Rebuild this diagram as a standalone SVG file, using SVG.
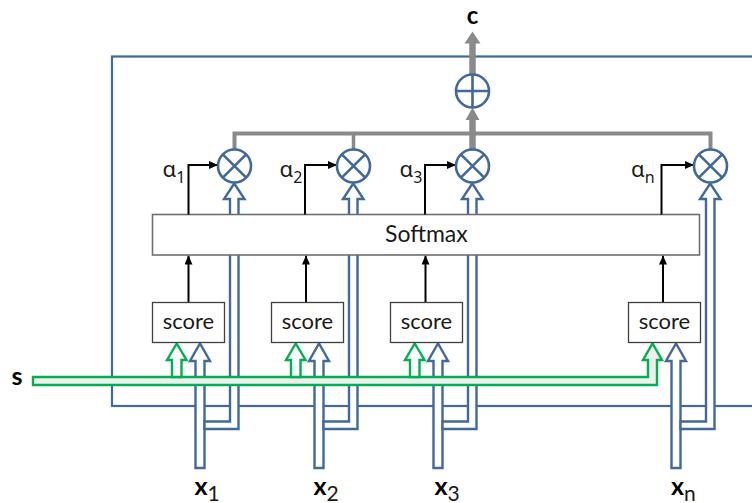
<svg xmlns="http://www.w3.org/2000/svg" width="752" height="503" viewBox="0 0 752 503">
<style>
.frame{fill:none;stroke:#41699c;stroke-width:2.2}
.hol{fill:#fff;stroke:#41699c;stroke-width:2.4;stroke-linejoin:miter}
.grn{fill:#fff;stroke:#00b050;stroke-width:2.4}
.grnbar{fill:#eeeeee;stroke:#00b050;stroke-width:2.4}
.op{fill:#fff;stroke:#41699c;stroke-width:2.6}
.opl{stroke:#41699c;stroke-width:2.6;fill:none}
.box{fill:#fff;stroke:#404040;stroke-width:1.3}
.sm{fill:#fff;stroke:#6f6f6f;stroke-width:1.6}
.gray{stroke:#8a8a8a;fill:none}
.gfill{fill:#8a8a8a}
.blk{stroke:#000;stroke-width:2;fill:none;marker-end:url(#ah)}
.t{font-family:Lato,"Liberation Sans",sans-serif;fill:#1a1a1a}
.a{font-family:"Noto Sans","Liberation Sans",sans-serif;fill:#1a1a1a}
.b{font-family:Lato,"Liberation Sans",sans-serif;font-weight:bold;fill:#000}
</style>
<defs>
<marker id="ah" markerUnits="userSpaceOnUse" markerWidth="9" markerHeight="8" viewBox="0 0 9 8" refX="9" refY="4" orient="auto">
<path d="M0,0 L9,4 L0,8 z" fill="#000"/>
</marker>
</defs>

<g id="frame">
<rect class="frame" x="112" y="56.5" width="700" height="349.5"/>
</g>

<g id="connectors">
<polygon class="hol" points="195.5,468 195.5,361 190,361 200,343.5 210,361 204.5,361 204.5,468"/>
<polygon class="hol" points="204.5,421.5 230,421.5 230,199 224,199 234.25,183.5 244.5,199 238.5,199 238.5,429 204.5,429"/>
<polygon class="hol" points="314.5,468 314.5,361 309,361 319,343.5 329,361 323.5,361 323.5,468"/>
<polygon class="hol" points="323.5,421.5 349,421.5 349,199 343,199 353.25,183.5 363.5,199 357.5,199 357.5,429 323.5,429"/>
<polygon class="hol" points="433.5,468 433.5,361 428,361 438,343.5 448,361 442.5,361 442.5,468"/>
<polygon class="hol" points="442.5,421.5 468,421.5 468,199 462,199 472.25,183.5 482.5,199 476.5,199 476.5,429 442.5,429"/>
<polygon class="hol" points="671.5,468 671.5,361 666,361 676,343.5 686,361 680.5,361 680.5,468"/>
<polygon class="hol" points="680.5,421.5 706,421.5 706,199 700,199 710.25,183.5 720.5,199 714.5,199 714.5,429 680.5,429"/>

<polygon class="grnbar" points="33,377 648,377 648,360 643,360 652.5,343.5 662,360 657,360 657,385 33,385"/>
<polygon class="grn" points="172,377 172,360 167,360 176.75,343.5 186.5,360 181.5,360 181.5,377"/>
<polygon class="grn" points="291,377 291,360 286,360 295.75,343.5 305.5,360 300.5,360 300.5,377"/>
<polygon class="grn" points="410,377 410,360 405,360 414.75,343.5 424.5,360 419.5,360 419.5,377"/>

<path class="gray" stroke-width="4" d="M234.5,149 V133.5 H710.5 V149"/>
<path class="gray" stroke-width="3.5" d="M353.5,133.5 V149"/>
<path class="gray" stroke-width="6.5" d="M472.5,150 V119"/>
<polygon class="gfill" points="465.5,120 472.5,107.5 479.5,120"/>
<path class="gray" stroke-width="6.5" d="M472.5,75 V42"/>
<polygon class="gfill" points="464.5,43.5 472.5,31.5 480.5,43.5"/>

<path class="blk" d="M188.5,302.5 V255.5"/>
<path class="blk" d="M306,302.5 V255.5"/>
<path class="blk" d="M425.5,302.5 V255.5"/>
<path class="blk" d="M663,302.5 V255.5"/>
</g>

<g id="softmax">
<rect class="sm" x="152.5" y="214.5" width="547" height="40.5"/>
<text class="t" x="426.4" y="241.5" font-size="23" text-anchor="middle">Softmax</text>
</g>

<g id="alpha-arrows">
<path class="blk" d="M188.5,214.5 V165 H218"/>
<path class="blk" d="M305,214.5 V165 H337"/>
<path class="blk" d="M425,214.5 V165 H456"/>
<path class="blk" d="M661.5,214.5 V165 H694"/>
</g>

<g id="score1"><rect class="box" x="152.5" y="302.5" width="72" height="40"/><text class="t" x="188.5" y="328.5" font-size="22" text-anchor="middle">score</text></g>
<g id="score2"><rect class="box" x="271.5" y="302.5" width="72" height="40"/><text class="t" x="307.5" y="328.5" font-size="22" text-anchor="middle">score</text></g>
<g id="score3"><rect class="box" x="390.5" y="302.5" width="72" height="40"/><text class="t" x="426.5" y="328.5" font-size="22" text-anchor="middle">score</text></g>
<g id="scoren"><rect class="box" x="628.5" y="302.5" width="72" height="40"/><text class="t" x="664.5" y="328.5" font-size="22" text-anchor="middle">score</text></g>

<g id="mul1"><circle class="op" cx="234.5" cy="166" r="16.5"/><path class="opl" d="M222.8,154.3 L246.2,177.7 M246.2,154.3 L222.8,177.7"/></g>
<g id="mul2"><circle class="op" cx="353.5" cy="166" r="16.5"/><path class="opl" d="M341.8,154.3 L365.2,177.7 M365.2,154.3 L341.8,177.7"/></g>
<g id="mul3"><circle class="op" cx="472.5" cy="166" r="16.5"/><path class="opl" d="M460.8,154.3 L484.2,177.7 M484.2,154.3 L460.8,177.7"/></g>
<g id="muln"><circle class="op" cx="710.5" cy="166" r="16.5"/><path class="opl" d="M698.8,154.3 L722.2,177.7 M722.2,154.3 L698.8,177.7"/></g>
<g id="plus"><circle class="op" cx="472.5" cy="91" r="16.5"/><path class="opl" d="M456,91 H489 M472.5,74.5 V107.5"/></g>

<g id="labels">
<text class="b" x="472.5" y="23.5" font-size="24" text-anchor="middle">c</text>
<text class="b" x="17" y="384.5" font-size="25" text-anchor="middle">s</text>
<text class="a" x="162.5" y="177" font-size="22">α<tspan font-size="16" dy="6">1</tspan></text>
<text class="a" x="279.5" y="177" font-size="22">α<tspan font-size="16" dy="6">2</tspan></text>
<text class="a" x="399.5" y="177" font-size="22">α<tspan font-size="16" dy="6">3</tspan></text>
<text class="a" x="631" y="177" font-size="22">α<tspan font-size="16" dy="6">n</tspan></text>
<text class="b" x="194.5" y="494.5" font-size="25">x<tspan class="t" font-weight="normal" font-size="21" dy="6">1</tspan></text>
<text class="b" x="313.5" y="494.5" font-size="25">x<tspan class="t" font-weight="normal" font-size="21" dy="6">2</tspan></text>
<text class="b" x="434.5" y="494.5" font-size="25">x<tspan class="t" font-weight="normal" font-size="21" dy="6">3</tspan></text>
<text class="b" x="671" y="494.5" font-size="25">x<tspan class="t" font-weight="normal" font-size="21" dy="6">n</tspan></text>
</g>
</svg>
